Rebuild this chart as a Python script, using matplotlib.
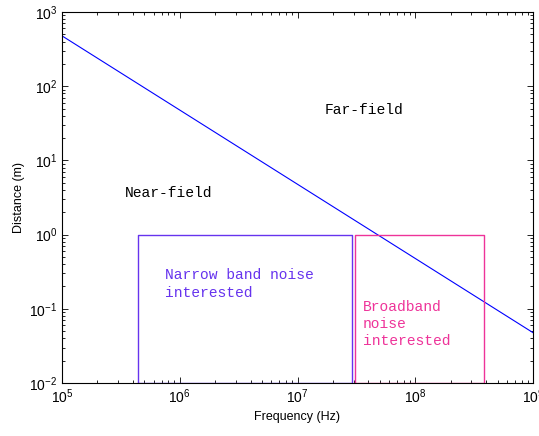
import matplotlib
matplotlib.use("Agg")
import matplotlib.pyplot as plt

# Boundary line (distance = lambda / 2pi), endpoints
line_freq = [1e5, 1e9]
line_dist = [477.0, 0.0477]

# Regions of interest: (f_low, f_high, d_low, d_high)
narrow_box = (4.4e5, 2.9e7, 1e-2, 1.0)
broad_box = (3.07e7, 3.85e8, 1e-2, 1.0)

box_blue = "#6633ee"
box_pink = "#ee3399"

plt.rcParams["font.family"] = ["Liberation Sans", "DejaVu Sans"]
plt.rcParams["mathtext.fontset"] = "custom"
plt.rcParams["mathtext.rm"] = "Liberation Sans"

fig = plt.figure(figsize=(5.39, 4.36), dpi=100)
ax = fig.add_axes([62 / 539, 53 / 436, 471 / 539, 371 / 436])

ax.plot(line_freq, line_dist, color="#0000ff", linewidth=0.8)


def draw_box(box, color):
    x0, x1, y0, y1 = box
    ax.plot([x0, x0, x1, x1, x0], [y0, y1, y1, y0, y0], color=color, linewidth=1.0)


draw_box(narrow_box, box_blue)
draw_box(broad_box, box_pink)

ax.set_xscale("log")
ax.set_yscale("log")
ax.set_xlim(1e5, 1e9)
ax.set_ylim(1e-2, 1e3)

mono = ["Liberation Mono", "DejaVu Sans Mono"]
ax.text(8e5, 3.6, "Near-field", family=mono, fontsize=10.5, ha="center", va="center")
ax.text(3.7e7, 48, "Far-field", family=mono, fontsize=10.5, ha="center", va="center")
ax.text(7.5e5, 0.216, "Narrow band noise\ninterested", family=mono, fontsize=10.5,
        color=box_blue, ha="left", va="center", linespacing=1.3)
ax.text(3.6e7, 0.0624, "Broadband\nnoise\ninterested", family=mono, fontsize=10.5,
        color=box_pink, ha="left", va="center", linespacing=1.3)

ax.set_xlabel("Frequency (Hz)", fontsize=9, labelpad=3)
ax.set_ylabel("Distance (m)", fontsize=9, labelpad=3)

ax.tick_params(which="both", direction="in", top=True, right=True, labelsize=10)
ax.tick_params(which="major", length=4, width=0.6)
ax.tick_params(which="minor", length=2, width=0.6)
for sp in ax.spines.values():
    sp.set_linewidth(0.8)

fig.savefig("out.png", dpi=100)
